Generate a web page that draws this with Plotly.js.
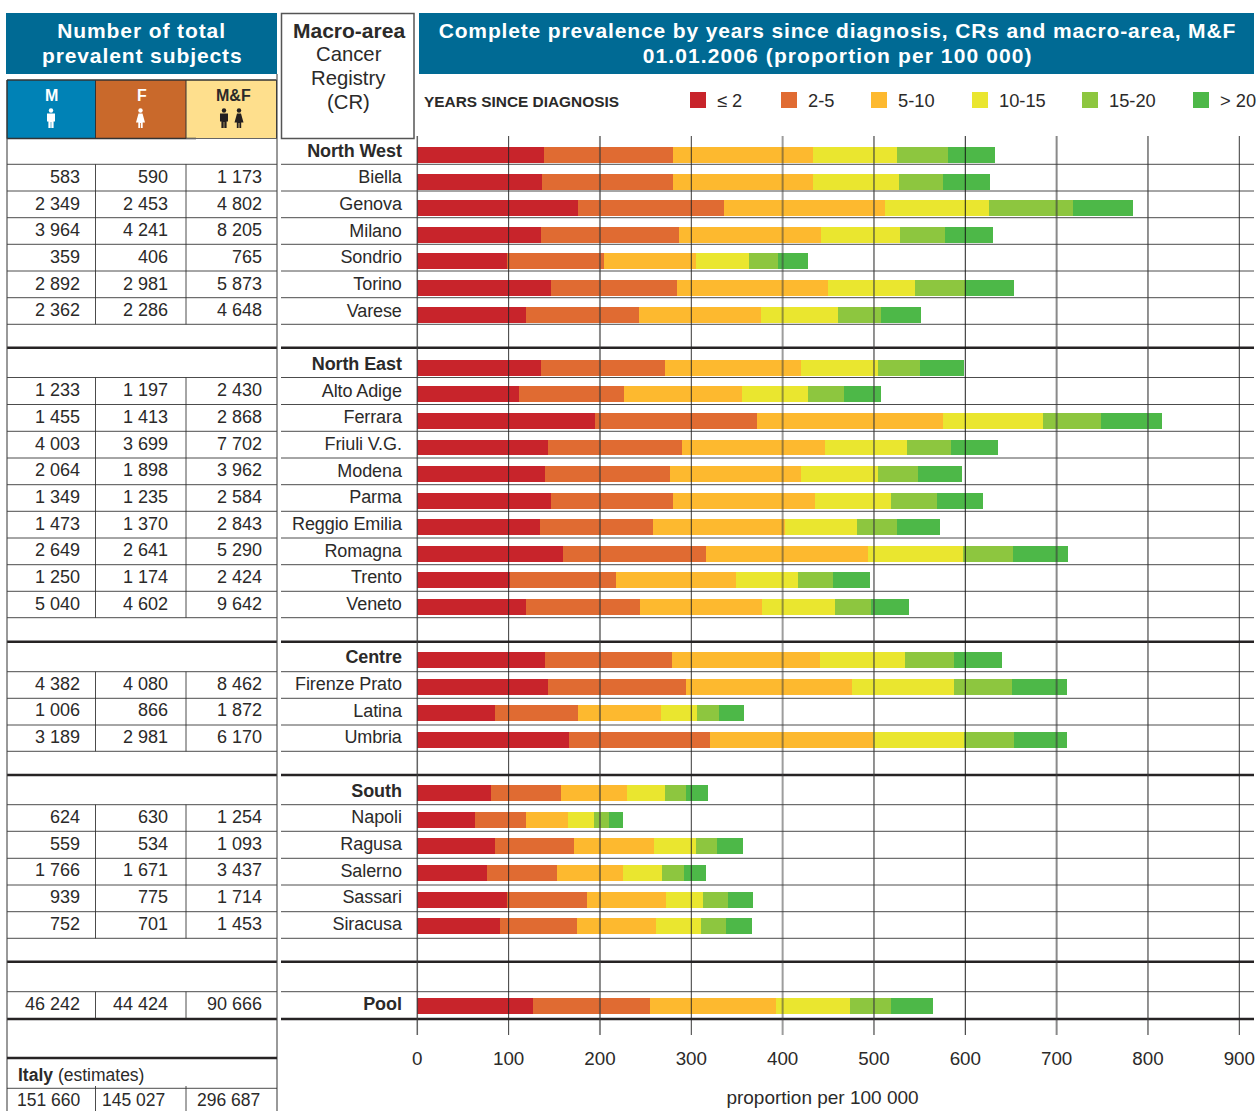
<!DOCTYPE html>
<html>
<head>
<meta charset="utf-8">
<script src="https://cdn.plot.ly/plotly-3.0.1.min.js"></script>
<style>
html,body{margin:0;padding:0;background:#fff;overflow:hidden}
#chart{width:1258px;height:1111px}
.annotation[data-index="0"] text,.annotation[data-index="1"] text{letter-spacing:.9px}
.annotation[data-index="2"] text{letter-spacing:.85px}
.annotation[data-index="3"] text{letter-spacing:1.1px}
.ytick text{letter-spacing:-.1px}
</style>
</head>
<body>
<div id="chart"></div>
<script>
// ---------- data ----------
const registries = ["<b>North West</b>","Biella","Genova","Milano","Sondrio","Torino","Varese",
  "<b>North East</b>","Alto Adige","Ferrara","Friuli V.G.","Modena","Parma","Reggio Emilia","Romagna","Trento","Veneto",
  "<b>Centre</b>","Firenze Prato","Latina","Umbria",
  "<b>South</b>","Napoli","Ragusa","Salerno","Sassari","Siracusa",
  "<b>Pool</b>"];
const rowIndex = [0,1,2,3,4,5,6, 8,9,10,11,12,13,14,15,16,17, 19,20,21,22, 24,25,26,27,28,29, 32];

const yearClasses = ["≤ 2","2-5","5-10","10-15","15-20","> 20"];
const classColors = ["#c8242b","#e06b32","#fdb92f","#eae62f","#8dc63f","#4db848"];

const le2   = [138.7,136.5,176,135.4,98.2,146.4,119, 135.4,111.4,194.6,143.1,139.8,146.4,134.3,159.5,101.5,119, 139.8,143.1,85.1,166.1, 80.7,63.2,85.1,76.3,98.2,90.5, 126.7];
const y2to5 = [141.2,143.4,159.9,151.1,106.2,138,123.7, 135.8,115,177.4,146.7,136.9,133.6,123.7,156.6,116.1,124.8, 139.1,151.1,90.9,154.4, 76.6,55.8,86.5,76.6,87.6,84.3, 128.1];
const y5to10= [153.3,153.3,176.3,155.5,100.7,165.3,133.6, 148.9,129.2,203.7,156.6,143.4,155.5,144.5,177.4,131.4,133.6, 162,181.8,90.9,178.5, 72.3,46,87.6,72.3,86.5,86.5, 138];
const y10to15=[92,94.2,113.9,86.5,58,95.3,84.3, 84.3,72.3,109.5,89.8,84.3,83.2,78.8,104,67.9,79.9, 93.1,111.7,39.4,99.6, 41.6,28.5,46,42.7,40.5,49.3, 81];
const y15to20=[55.8,48.2,92,49.3,31.8,55,47.1, 46,39.4,63.5,48.2,43.8,50.4,43.8,54.7,38.3,39.4, 53.7,63.5,24.1,54.7, 23,16.4,23,24.1,27.4,27.4, 44.9];
const gt20  = [51.5,51.5,65.7,52.6,32.8,53.6,43.8, 48.2,40.5,66.8,51.5,48.2,50.4,47.1,60.2,40.5,41.6, 52.6,60.2,27.4,58, 24.1,15.3,28.5,24.1,27.4,28.5, 46];
const seriesValues = [le2,y2to5,y5to10,y10to15,y15to20,gt20];

const males   = [null,583,2349,3964,359,2892,2362, null,1233,1455,4003,2064,1349,1473,2649,1250,5040, null,4382,1006,3189, null,624,559,1766,939,752, 46242];
const females = [null,590,2453,4241,406,2981,2286, null,1197,1413,3699,1898,1235,1370,2641,1174,4602, null,4080,866,2981, null,630,534,1671,775,701, 44424];
const both    = [null,1173,4802,8205,765,5873,4648, null,2430,2868,7702,3962,2584,2843,5290,2424,9642, null,8462,1872,6170, null,1254,1093,3437,1714,1453, 90666];
const italy   = [151660,145027,296687];

const xTicks = [0,100,200,300,400,500,600,700,800,900];
const gridWidths = [1.5,1,2,1,2,1.5,1,2,1.5,1];
const gridColors = ['rgba(60,60,60,.8)','rgba(35,35,35,.9)','rgba(60,60,60,.6)','rgba(35,35,35,.9)','rgba(60,60,60,.5)','rgba(60,60,60,.75)','rgba(20,20,20,.95)','rgba(60,60,60,.6)','rgba(60,60,60,.75)','rgba(35,35,35,.9)'];
const W=1258,H=1111;
const TXT='#2b2a29', FONT='"Liberation Sans", Arial, sans-serif';

// ---------- helpers ----------
const px=x=>x/W, py=y=>1-y/H;
const fmt=n=>String(n).replace(/\B(?=(\d{3})+$)/g,' ');
const shapes=[], ann=[];
function rect(x0,y0,x1,y1,fill,lc,lw){shapes.push({type:'rect',xref:'paper',yref:'paper',x0:px(x0),x1:px(x1),y0:py(y0),y1:py(y1),fillcolor:fill,line:{color:lc||'rgba(0,0,0,0)',width:lw||0},layer:'above'});}
function line(x0,y0,x1,y1,c,w){shapes.push({type:'line',xref:'paper',yref:'paper',x0:px(x0),x1:px(x1),y0:py(y0),y1:py(y1),line:{color:c,width:w},layer:'above'});}
function poly(points,fill){const d=points.map((p,i)=>(i?'L':'M')+px(p[0]).toFixed(5)+' '+py(p[1]).toFixed(5)).join(' ')+' Z';
  shapes.push({type:'path',xref:'paper',yref:'paper',path:d,fillcolor:fill,line:{width:0},layer:'above'});}
function circ(cx,cy,r,fill){shapes.push({type:'circle',xref:'paper',yref:'paper',x0:px(cx-r),x1:px(cx+r),y0:py(cy-r),y1:py(cy+r),fillcolor:fill,line:{width:0},layer:'above'});}
function label(x,y,text,size,opt){opt=opt||{};ann.push({xref:'paper',yref:opt.yref||'paper',x:px(x),y:opt.yref?y:py(y),text,showarrow:false,
  xanchor:opt.a||'center',yanchor:'middle',align:opt.a||'center',font:{family:FONT,size,color:opt.c||TXT},borderpad:0});}
function man(cx,c){circ(cx,110.5,2.2,c);
  poly([[cx-4,113.5],[cx+4,113.5],[cx+4,121.5],[cx+2.6,121.5],[cx+2.6,128],[cx+.3,128],[cx+.3,122],[cx-.3,122],[cx-.3,128],[cx-2.6,128],[cx-2.6,121.5],[cx-4,121.5]],c);}
function woman(cx,c){circ(cx,110.5,2.2,c);
  poly([[cx-2,113.5],[cx+2,113.5],[cx+4.5,122.5],[cx+2.2,122.5],[cx+2.2,128],[cx+.4,128],[cx+.4,123],[cx-.4,123],[cx-.4,128],[cx-2.2,128],[cx-2.2,122.5],[cx-4.5,122.5]],c);}

// ---------- headers (annotations 0-3 get tracking via CSS) ----------
rect(6,13,277,74,'#006a94');
rect(419,13,1254,74,'#006a94');
label(141.5,31,'<b>Number of total</b>',21,{c:'#fff'});
label(141.5,55,'<b>prevalent subjects</b>',21,{c:'#fff'});
label(837,31,'<b>Complete prevalence by years since diagnosis, CRs and macro-area, M&amp;F</b>',21,{c:'#fff'});
label(837,55,'<b>01.01.2006 (proportion per 100 000)</b>',21,{c:'#fff'});

rect(7,80,95.5,138.5,'#0082b6');
rect(95.5,80,186,138.5,'#c9692b');
rect(186,80,276.5,138.5,'#fedf8d');
line(7,80,276.5,80,'#333',1.5);line(7,138.5,196,138.5,'#333',1.5);line(186,138.5,276.5,138.5,'#666',1);
line(7,80,7,138.5,'#333',1.5);line(95.5,80,95.5,138.5,'#333',1);line(186,80,186,138.5,'#333',1);line(276.5,80,276.5,138.5,'#333',1);
label(51.5,96,'<b>M</b>',16,{c:'#fff'});label(142,96,'<b>F</b>',16,{c:'#fff'});label(233,96,'<b>M&amp;F</b>',16);
man(51,'#fff');woman(140.5,'#fff');man(224,'#231f20');woman(239,'#231f20');

rect(281.5,13.5,414,138.5,'#fff','#555',1.5);
label(349,30,'<b>Macro-area</b>',21);
label(349,54,'Cancer',20.3);label(349,78,'Registry',20.3);label(349,102,'(CR)',20.3);

// ---------- legend ----------
label(422.5,101.5,'<b>YEARS SINCE DIAGNOSIS</b>',15.4,{a:'left'});
const legendSwatch=[690,781,871,972,1082,1193];
yearClasses.forEach((t,i)=>{rect(legendSwatch[i],92,legendSwatch[i]+16,108,classColors[i]);
  label(legendSwatch[i]+26,100.5,t,18.3,{a:'left'});});

// ---------- table rules ----------
const thin=[164.3,191,217.7,244.3,271,297.7,324.3, 377.5,404.5,431.3,458,484.7,511.3,538,564.7,591.3,617.7, 671.7,698.3,725,751.3, 804.7,831.3,858.3,885,911.7,938.3, 991.7];
const thick=[347.7,641.7,775,961.7,1019];
const RULE='rgba(45,45,45,.85)';
thin.forEach(y=>{line(7,y,277,y,RULE,1);line(281,y,1254,y,RULE,1);});
thick.forEach(y=>{line(7,y,277,y,'#262324',2.5);line(281,y,1254,y,'#262324',2.5);});
line(7,138,7,1111,'rgba(70,70,70,.85)',1.3);line(277,74,277,1111,'rgba(70,70,70,.85)',1.3);
[95.5,186].forEach(x=>{[[164.3,324.3],[377.5,617.7],[671.7,751.3],[804.7,938.3],[991.7,1019],[1086,1111]].forEach(s=>line(x,s[0],x,s[1],RULE,1));});
line(7,1058,277,1058,'#262324',2.5);line(7,1088.3,277,1088.3,RULE,1);

// ---------- gridlines drawn above the bars, on the x scale ----------
xTicks.forEach((v,i)=>shapes.push({type:'line',xref:'x',yref:'paper',x0:v,x1:v,y0:py(136),y1:py(1035),line:{color:gridColors[i],width:gridWidths[i]},layer:'above'}));

// ---------- table values ----------
const textRow=r=>(r*26.67-4.7)/26.59;
const colRight=[80.5,169,262.5];
[males,females,both].forEach((col,c)=>col.forEach((v,i)=>{if(v!==null)label(colRight[c],textRow(rowIndex[i]),fmt(v),18,{a:'right',yref:'y'});}));
label(16.5,1075,'<b>Italy</b> (estimates)',17.5,{a:'left'});
italy.forEach((v,i)=>label([81.5,166,261][i],1100,fmt(v),17.5,{a:'right'}));

// ---------- bars ----------
const traces=seriesValues.map((vals,i)=>({type:'bar',orientation:'h',name:yearClasses[i],x:vals,y:rowIndex,width:0.6,
  marker:{color:classColors[i],line:{width:0}},hoverinfo:'x+name'}));

const zeroPx=417.3,ninePx=1239.3,x0px=402.8,x1px=1242.3,unit=(ninePx-zeroPx)/900;
Plotly.newPlot('chart',traces,{
  width:W,height:H,margin:{l:0,r:0,t:0,b:0},paper_bgcolor:'#fff',plot_bgcolor:'#fff',
  barmode:'stack',showlegend:false,font:{family:FONT,color:TXT,size:18},
  xaxis:{domain:[px(x0px),px(x1px)],range:[-(zeroPx-x0px)/unit,900+(x1px-ninePx)/unit],tickvals:xTicks,ticktext:xTicks.map(String),
    showgrid:false,zeroline:false,showline:false,ticks:'outside',ticklen:6,tickcolor:'rgba(0,0,0,0)',
    tickfont:{size:18.8,color:TXT},title:{text:'proportion per 100 000',standoff:23,font:{size:19,color:TXT}},automargin:false},
  yaxis:{domain:[py(1035),py(136)],range:[(1035-155)/26.59,(136-155)/26.59],tickvals:rowIndex.map(textRow),ticktext:registries,
    showgrid:false,zeroline:false,showline:false,ticks:'',tickfont:{size:18,color:TXT},automargin:false},
  shapes,annotations:ann
},{displayModeBar:false,responsive:false});
</script>
</body>
</html>
